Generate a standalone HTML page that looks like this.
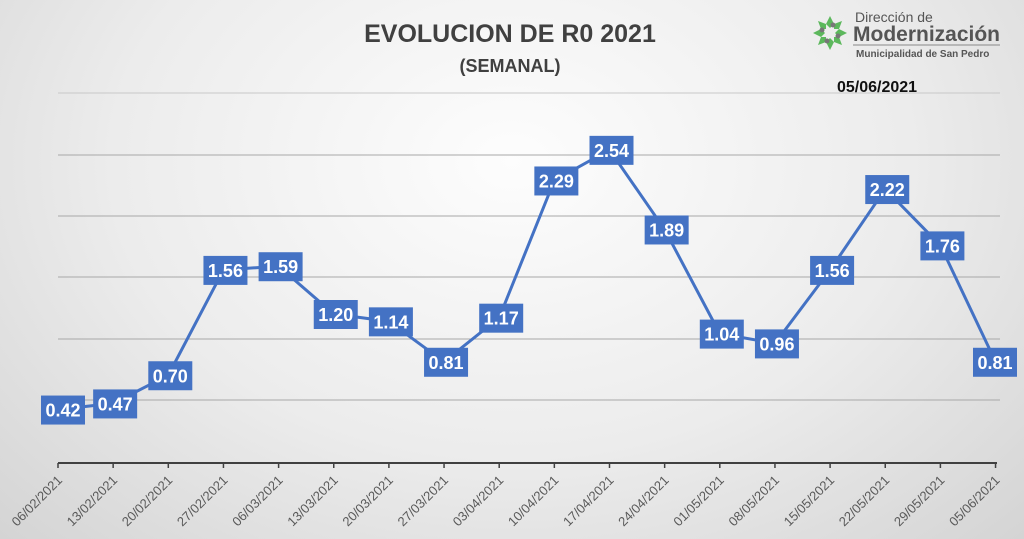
<!DOCTYPE html>
<html><head><style>
html,body{margin:0;padding:0;width:1024px;height:539px;overflow:hidden}
body{background:radial-gradient(ellipse at 50% 30%,#fdfdfd 0%,#ececec 55%,#d4d4d4 100%);font-family:"Liberation Sans",sans-serif}
</style></head><body>
<svg width="1024" height="539" xmlns="http://www.w3.org/2000/svg" font-family="Liberation Sans, sans-serif">
<text x="510" y="42" text-anchor="middle" font-size="25" font-weight="bold" fill="#404040">EVOLUCION DE R0 2021</text>
<text x="510" y="72" text-anchor="middle" font-size="18" font-weight="bold" fill="#404040">(SEMANAL)</text>
<g stroke="#a8a8a8" stroke-width="1">
<line x1="58" x2="1000" y1="93" y2="93" stroke="#c8c8c8"/><line x1="58" x2="1000" y1="155" y2="155"/>
<line x1="58" x2="1000" y1="216" y2="216"/><line x1="58" x2="1000" y1="277" y2="277"/>
<line x1="58" x2="1000" y1="339" y2="339"/><line x1="58" x2="1000" y1="400" y2="400"/>
</g>
<line x1="58" x2="997" y1="463" y2="463" stroke="#404040" stroke-width="2"/>
<g id="chart"></g>
<g transform="translate(830,33)">
<g fill="#5cb85c">
<path d="M0,-17 l4,8 l-4,4 l-4,-4z"/><path d="M0,17 l4,-8 l-4,-4 l-4,4z"/>
<path d="M-17,0 l8,4 l4,-4 l-4,-4z"/><path d="M17,0 l-8,4 l-4,-4 l4,-4z"/>
<path d="M-12,-12 l8,3 l0,5 l-5,0z"/><path d="M12,12 l-8,-3 l0,-5 l5,0z"/>
<path d="M12,-12 l-3,8 l-5,0 l0,-5z"/><path d="M-12,12 l3,-8 l5,0 l0,5z"/>
</g>
<g fill="#777"><circle r="2.5" cx="-8" cy="-3"/><circle r="2.5" cx="8" cy="3"/><circle r="2.5" cx="3" cy="-8"/><circle r="2.5" cx="-3" cy="8"/></g>
</g>
<text x="855" y="22" font-size="14" fill="#555">Dirección de</text>
<text x="853" y="41" font-size="21" font-weight="bold" fill="#555">Modernización</text>
<line x1="853" x2="1000" y1="45" y2="45" stroke="#888"/>
<text x="856" y="57" font-size="10" font-weight="bold" fill="#555">Municipalidad de San Pedro</text>
<text x="877" y="92" text-anchor="middle" font-size="16" font-weight="bold" fill="#111">05/06/2021</text>
</svg>
<script>
const vals=[0.42,0.47,0.70,1.56,1.59,1.20,1.14,0.81,1.17,2.29,2.54,1.89,1.04,0.96,1.56,2.22,1.76,0.81];
const dates=["06/02/2021","13/02/2021","20/02/2021","27/02/2021","06/03/2021","13/03/2021","20/03/2021","27/03/2021","03/04/2021","10/04/2021","17/04/2021","24/04/2021","01/05/2021","08/05/2021","15/05/2021","22/05/2021","29/05/2021","05/06/2021"];
const X=i=>58+i*55.15, Y=v=>461-122.5*v;
let s='<polyline fill="none" stroke="#4472C4" stroke-width="3" points="'+vals.map((v,i)=>X(i)+','+Y(v)).join(' ')+'"/>';
vals.forEach((v,i)=>{let x=X(i)+2,y=Y(v);if(i==0)x+=3;if(i==17)x=995;
s+=`<rect x="${x-22}" y="${y-14}" width="44" height="29" fill="#4472C4"/><text x="${x}" y="${y+7}" text-anchor="middle" font-size="18" font-weight="bold" fill="#fff">${v.toFixed(2)}</text>`;});
dates.forEach((d,i)=>{let x=X(i);s+=`<line x1="${x}" x2="${x}" y1="463" y2="468" stroke="#404040" stroke-width="1.5"/><text transform="translate(${x+5},481) rotate(-45)" text-anchor="end" font-size="13" fill="#595959">${d}</text>`;});
document.getElementById('chart').innerHTML=s;
</script>
</body></html>
